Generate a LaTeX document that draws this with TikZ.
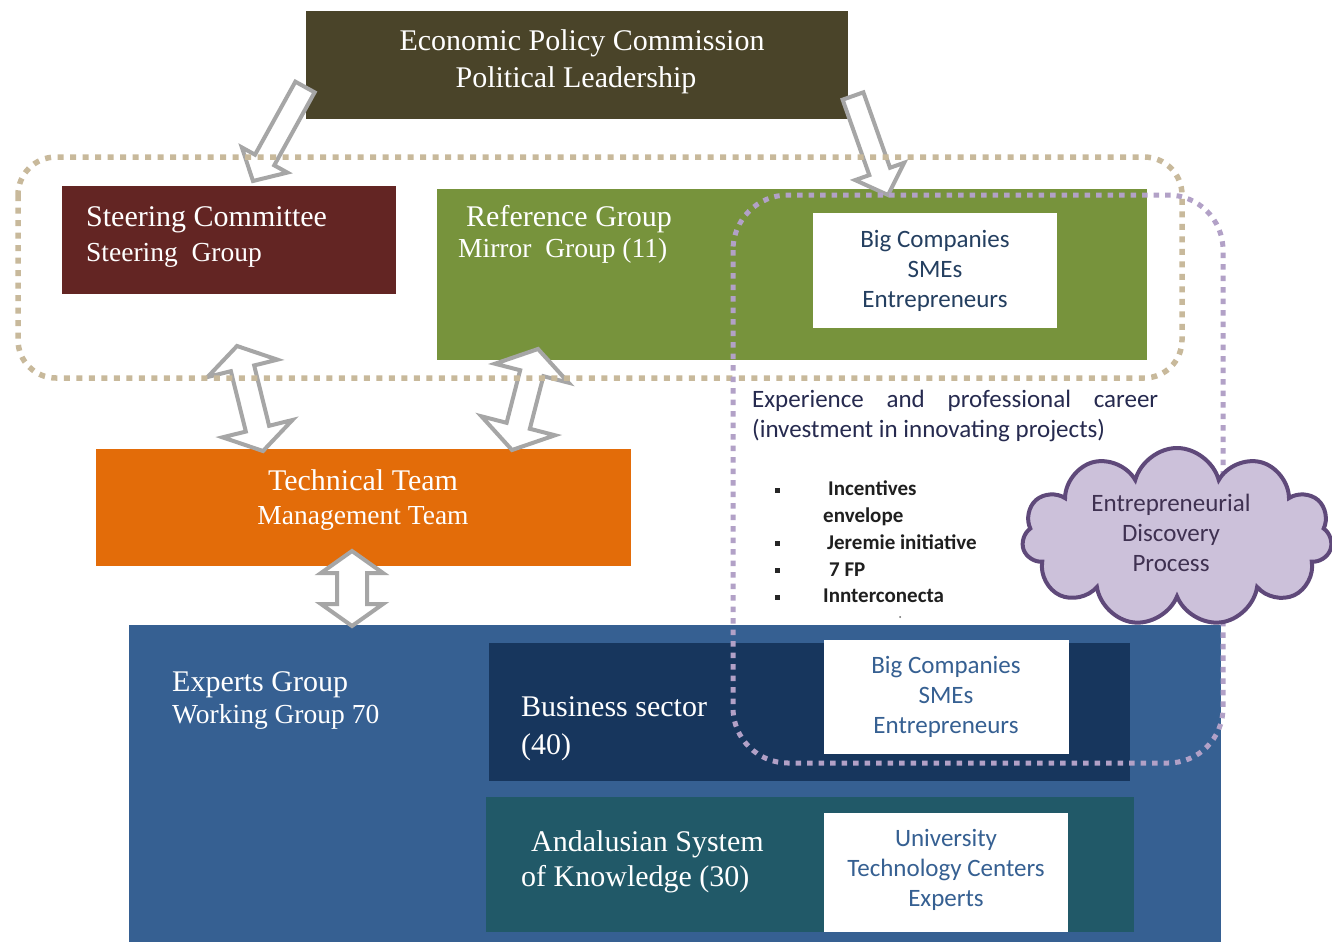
\documentclass[tikz,border=0pt]{standalone}
\usepackage{fontspec}
\setmainfont{Liberation Serif}
\newfontfamily\calib{Carlito}
\usetikzlibrary{calc,shapes.symbols}
\definecolor{cEPC}{HTML}{4A4429}
\definecolor{cSteer}{HTML}{632523}
\definecolor{cRef}{HTML}{77933C}
\definecolor{cTech}{HTML}{E36C09}
\definecolor{cExp}{HTML}{366092}
\definecolor{cBus}{HTML}{17365D}
\definecolor{cAnd}{HTML}{215968}
\definecolor{cTan}{HTML}{C8B99B}
\definecolor{cPur}{HTML}{B2A1C7}
\definecolor{cCloud}{HTML}{CCC1DA}
\definecolor{cCloudD}{HTML}{5F497A}
\definecolor{cCloudT}{HTML}{3F3151}
\definecolor{cNavy}{HTML}{243F60}
\definecolor{cTxt}{HTML}{262A4F}
\definecolor{cArr}{HTML}{A6A6A6}
\newcommand{\blockarrow}[5]{%
 \coordinate (bH) at ($(#2)!#5!(#1)$);
 \draw[harrow] ($(#1)!#3!90:(#2)$) -- ($(bH)!#3!90:(#2)$) -- ($(bH)!#4!90:(#2)$) -- (#2) -- ($(bH)!#4!-90:(#2)$) -- ($(bH)!#3!-90:(#2)$) -- ($(#1)!#3!-90:(#2)$) -- cycle;}
\newcommand{\dblockarrow}[5]{%
 \coordinate (dHa) at ($(#1)!#5!(#2)$);
 \coordinate (dHb) at ($(#2)!#5!(#1)$);
 \draw[harrow] (#1) -- ($(dHa)!#4!90:(#2)$) -- ($(dHa)!#3!90:(#2)$) -- ($(dHb)!#3!90:(#2)$) -- ($(dHb)!#4!90:(#2)$) -- (#2) -- ($(dHb)!#4!-90:(#2)$) -- ($(dHb)!#3!-90:(#2)$) -- ($(dHa)!#3!-90:(#2)$) -- ($(dHa)!#4!-90:(#2)$) -- cycle;}
\begin{document}
\begin{tikzpicture}[x=1pt,y=-1pt,
 box/.style={rectangle, draw=none, inner sep=0, anchor=north west},
 wt/.style={text=white, inner sep=0, anchor=base west, font=\fontsize{30}{36}\selectfont},
 wts/.style={wt, font=\fontsize{27.5}{33}\selectfont},
 wb/.style={inner sep=0, anchor=base, font=\calib\fontsize{25}{30}\selectfont},
 bt/.style={inner sep=0, anchor=base west, text=black!88, font=\calib\bfseries\fontsize{21}{25}\selectfont},
 bul/.style={rectangle, fill=black!85, minimum size=5, inner sep=0},
 harrow/.style={draw=cArr, fill=white, line width=4, line join=miter},
 tandot/.style={draw=cTan, line width=5.5, dash pattern=on 6pt off 6.5pt},
 purdot/.style={draw=cPur, line width=5, dash pattern=on 5.5pt off 6pt}]
\useasboundingbox (0,0) rectangle (1332,942);
\fill[white] (0,0) rectangle (1332,942);
% boxes
\node[box, fill=cEPC, minimum width=542, minimum height=108] (epc) at (306,11) {};
\node[box, fill=cSteer, minimum width=334, minimum height=108] (steer) at (62,186) {};
\node[box, fill=cRef, minimum width=710, minimum height=171] (ref) at (437,189) {};
\node[box, fill=white, minimum width=244, minimum height=115] (w1) at (813,213) {};
\node[box, fill=cTech, minimum width=535, minimum height=117] (tech) at (96,449) {};
\node[box, fill=cExp, minimum width=1092, minimum height=317] (exp) at (129,625) {};
\node[box, fill=cBus, minimum width=641, minimum height=138] (bus) at (489,643) {};
\node[box, fill=white, minimum width=245, minimum height=114] (w2) at (824,640) {};
\node[box, fill=cAnd, minimum width=648, minimum height=135] (and) at (486,797) {};
\node[box, fill=white, minimum width=244, minimum height=119] (w3) at (824,813) {};
% texts
\node[wt, anchor=base] (t1) at (582,51) {Economic Policy Commission};
\node[wt, anchor=base] (t2) at (576,87) {Political Leadership};
\node[wt] (t3) at (86,226) {Steering Committee};
\node[wts] (t4) at (86,261) {Steering\ \ Group};
\node[wt] (t5) at (466,226) {Reference Group};
\node[wts] (t6) at (458,257) {Mirror\ \ Group (11)};
\node[wt, anchor=base] (t7) at (363,490) {Technical Team};
\node[wts, anchor=base] (t8) at (363,524) {Management Team};
\node[wt] (t9) at (172,691) {Experts Group};
\node[wts] (t10) at (172,723) {Working Group 70};
\node[wt] (t11) at (521,716) {Business sector};
\node[wt] (t12) at (521,754) {(40)};
\node[wt] (t13) at (531,851) {Andalusian System};
\node[wt] (t14) at (521,886) {of Knowledge (30)};
\node[wb, text=cNavy] (s1) at (935,247) {Big Companies};
\node[wb, text=cNavy] (s2) at (935,277) {SMEs};
\node[wb, text=cNavy] (s3) at (935,307) {Entrepreneurs};
\node[wb, text=cExp] (s4) at (946,673) {Big Companies};
\node[wb, text=cExp] (s5) at (946,703) {SMEs};
\node[wb, text=cExp] (s6) at (946,733) {Entrepreneurs};
\node[wb, text=cExp] (s7) at (946,846) {University};
\node[wb, text=cExp] (s8) at (946,876) {Technology Centers};
\node[wb, text=cExp] (s9) at (946,906) {Experts};
\node[wb, anchor=base west, text=cTxt] (e1) at (752,407) {\hbox to 406pt{Experience\hfill and\hfill professional\hfill career}};
\node[wb, anchor=base west, text=cTxt] (e2) at (752,437) {(investment in innovating projects)};
\node[bul] (b1) at (777,490) {};
\node[bul] (b2) at (777,543) {};
\node[bul] (b3) at (777,570) {};
\node[bul] (b4) at (777,597) {};
\node[bt] (i1) at (828,495) {Incentives};
\node[bt] (i1b) at (823,522) {envelope};
\node[bt] (i2) at (827,549) {Jeremie initiative};
\node[bt] (i3) at (829,576) {7 FP};
\node[bt] (i4) at (823,602) {Innterconecta};
\node[circle, fill=black!60, minimum size=2, inner sep=0] (dot) at (900,617) {};
% arrows
\coordinate (a1s) at (305,87);  \coordinate (a1e) at (253,181);
\coordinate (a2s) at (853,96);  \coordinate (a2e) at (888,195);
\coordinate (d1s) at (237,346); \coordinate (d1e) at (263,451);
\coordinate (d2s) at (538,349); \coordinate (d2e) at (512,450);
\coordinate (d3s) at (352,551); \coordinate (d3e) at (352,626);
\blockarrow{a1s}{a1e}{11pt}{26pt}{24pt}
\blockarrow{a2s}{a2e}{11pt}{26pt}{25pt}
\dblockarrow{d1s}{d1e}{12pt}{36pt}{23pt}
\dblockarrow{d2s}{d2e}{12pt}{38pt}{25pt}
\dblockarrow{d3s}{d3e}{15pt}{31pt}{22pt}
% dotted groups
\draw[tandot, rounded corners=38] (18,157) rectangle (1182,378);
\draw[purdot, rounded corners=55] (733,195) rectangle (1223,763);
% cloud
\node[cloud, cloud puffs=11, aspect=1.75, draw=cCloudD, fill=cCloud, line width=4, minimum width=310, minimum height=178, inner sep=0] (edp) at (1177,537) {};
\node[inner sep=0, align=center, text=cCloudT, font=\calib\fontsize{25}{30}\selectfont] (edpt) at (1171,533) {Entrepreneurial\\Discovery\\Process};
\end{tikzpicture}
\end{document}
